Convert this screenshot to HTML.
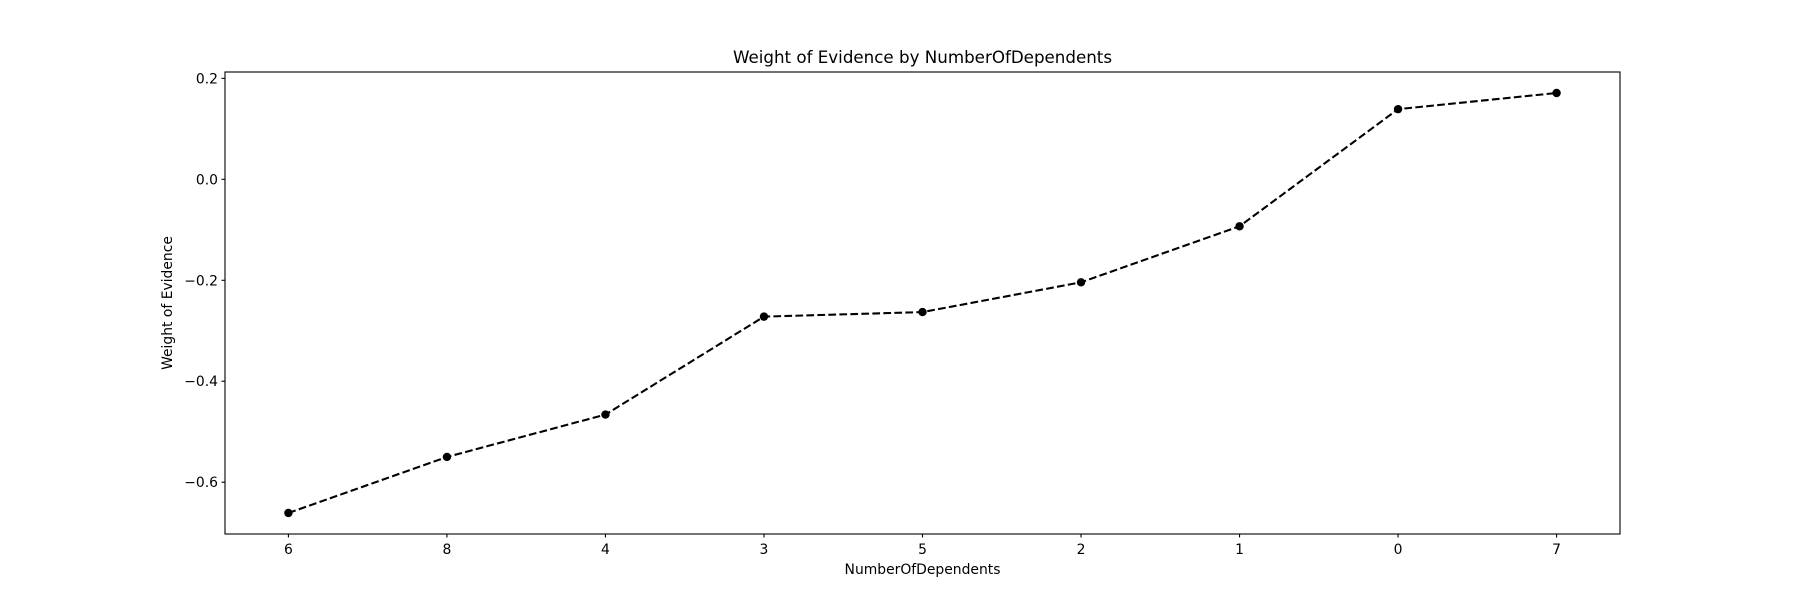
<!DOCTYPE html>
<html><head><meta charset="utf-8"><style>
html,body{margin:0;padding:0;background:#fff;}
svg{display:block;font-family:"DejaVu Sans","Liberation Sans",sans-serif;}
</style></head><body>
<svg id="chart" width="1800" height="600" xmlns="http://www.w3.org/2000/svg">
<rect width="1800" height="600" fill="#fff"/>
<text x="922.5" y="63" text-anchor="middle" font-size="16.7">Weight of Evidence by NumberOfDependents</text>
<g id="plot"></g>
<rect x="225" y="72" width="1395" height="462" fill="none" stroke="#000" stroke-width="1.1"/>
<text x="922.5" y="574" text-anchor="middle" font-size="13.9">NumberOfDependents</text>
<text transform="translate(172,303) rotate(-90)" text-anchor="middle" font-size="13.9">Weight of Evidence</text>
</svg>
<script>
const categories = ["6","8","4","3","5","2","1","0","7"];
const woeValues = [-0.661,-0.550,-0.466,-0.272,-0.263,-0.204,-0.093,0.139,0.171];
const yTicks = [0.2,0.0,-0.2,-0.4,-0.6];
const yTickLabels = ["0.2","0.0","\u22120.2","\u22120.4","\u22120.6"];

const L=225,R=1620,T=72,B=534;
const n=categories.length;
const xmin=-0.05*(n-1), xmax=(n-1)*1.05;
const dmin=Math.min(...woeValues), dmax=Math.max(...woeValues), pad=0.05*(dmax-dmin);
const ymin=dmin-pad, ymax=dmax+pad;
const xs=i=>L+(i-xmin)/(xmax-xmin)*(R-L);
const ys=v=>B-(v-ymin)/(ymax-ymin)*(B-T);
const NS="http://www.w3.org/2000/svg";
const g=document.getElementById('plot');
function mk(t,a){const e=document.createElementNS(NS,t);for(const k in a)e.setAttribute(k,a[k]);g.appendChild(e);return e;}

yTicks.forEach((v,i)=>{
  const y=ys(v);
  const tk=mk('line',{x1:L-3.5,x2:L,y1:y,y2:y,stroke:'#000','stroke-width':1.1});
  
  
  const tx=mk('text',{x:L-7,y:y+5,'text-anchor':'end','font-size':13.9});
  tx.textContent=yTickLabels[i];
  
  
});
categories.forEach((c,i)=>{
  const x=xs(i);
  const tk=mk('line',{x1:x,x2:x,y1:B,y2:B+3.5,stroke:'#000','stroke-width':1.1});
  
  
  const tx=mk('text',{x:x,y:B+20,'text-anchor':'middle','font-size':13.9});
  tx.textContent=c;
  
  
});
const pts=woeValues.map((v,i)=>xs(i)+','+ys(v)).join(' ');
const line=mk('polyline',{points:pts,fill:'none',stroke:'#000','stroke-width':2.08,'stroke-dasharray':'7.7,3.3'});


woeValues.forEach((v,i)=>{
  const c=mk('circle',{cx:xs(i),cy:ys(v),r:4.2,fill:'#000'});
  
  
});
</script>
</body></html>
